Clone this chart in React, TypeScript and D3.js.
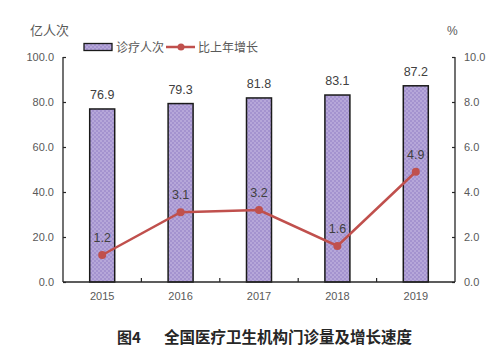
import { useEffect, useRef } from 'react';
import * as d3 from 'd3';

const years = ['2015', '2016', '2017', '2018', '2019'];
const visits = [76.9, 79.3, 81.8, 83.1, 87.2];
const growth = [1.2, 3.1, 3.2, 1.6, 4.9];
const leftTicks = [0, 20, 40, 60, 80, 100];
const rightTicks = [0, 2, 4, 6, 8, 10];

const W = 500;
const H = 363;
const gray = '#595959';
const red = '#c0504d';
const labelFont = '"Liberation Sans", Arial, sans-serif';
const cjkFont = '"Noto Sans CJK SC", sans-serif';

export default function App() {
  const svgRef = useRef<SVGSVGElement>(null);

  useEffect(() => {
    if (!svgRef.current) return;
    const svg = d3.select(svgRef.current);
    svg.selectAll('*').remove();

    const left = 63;
    const right = 455;
    const top = 57;
    const bottom = 282;

    // dotted purple fill like the Excel pattern
    const defs = svg.append('defs');
    const pat = defs
      .append('pattern')
      .attr('id', 'dots')
      .attr('width', 4)
      .attr('height', 4)
      .attr('patternUnits', 'userSpaceOnUse');
    pat.append('rect').attr('width', 4).attr('height', 4).attr('fill', '#a493cf');
    pat.append('circle').attr('cx', 1).attr('cy', 1).attr('r', 0.8).attr('fill', '#cdc2e6');
    pat.append('circle').attr('cx', 3).attr('cy', 3).attr('r', 0.8).attr('fill', '#cdc2e6');

    const x = d3.scaleBand<string>().domain(years).range([left, right]).paddingInner(0).paddingOuter(0);
    const yL = d3.scaleLinear().domain([0, 100]).range([bottom, top]);
    const yR = d3.scaleLinear().domain([0, 10]).range([bottom, top]);
    const barW = 25;

    // bars
    svg
      .append('g')
      .selectAll('rect')
      .data(visits)
      .enter()
      .append('rect')
      .attr('x', (_, i) => x(years[i])! + x.bandwidth() / 2 - barW / 2)
      .attr('y', (d) => yL(d))
      .attr('width', barW)
      .attr('height', (d) => bottom - yL(d))
      .attr('fill', 'url(#dots)')
      .attr('stroke', '#1a1a1a')
      .attr('stroke-width', 1.5);

    // bar labels
    svg
      .append('g')
      .selectAll('text')
      .data(visits)
      .enter()
      .append('text')
      .attr('x', (_, i) => x(years[i])! + x.bandwidth() / 2)
      .attr('y', (d) => yL(d) - 10)
      .attr('text-anchor', 'middle')
      .attr('font-family', labelFont)
      .attr('font-size', 12.5)
      .attr('fill', '#404040')
      .text((d) => d.toFixed(1));

    // left axis
    const gl = svg.append('g').attr('transform', `translate(${left},0)`);
    gl.call(d3.axisLeft(yL).tickValues(leftTicks).tickSize(-3).tickPadding(9).tickFormat((d) => (+d).toFixed(1)));
    gl.select('.domain').attr('d', `M-0,${top}V${bottom}`);

    // right axis
    const gr = svg.append('g').attr('transform', `translate(${right},0)`);
    gr.call(d3.axisRight(yR).tickValues(rightTicks).tickSize(-3).tickPadding(9).tickFormat((d) => (+d).toFixed(1)));
    gr.select('.domain').attr('d', `M0,${top}V${bottom}`);

    // bottom axis
    const gb = svg.append('g').attr('transform', `translate(0,${bottom})`);
    gb.call(d3.axisBottom(x).tickSize(0).tickPadding(10));
    gb.select('.domain').attr('d', `M${left},0H${right}`);
    gb.append('g')
      .selectAll('line')
      .data(years.slice(1))
      .enter()
      .append('line')
      .attr('x1', (d) => x(d)!)
      .attr('x2', (d) => x(d)!)
      .attr('y1', 0)
      .attr('y2', -4)
      .attr('stroke', '#262626')
      .attr('stroke-width', 1.2);

    [gl, gr, gb].forEach((g) => {
      g.selectAll('.domain').attr('stroke', '#262626').attr('stroke-width', 1.3);
      g.selectAll('.tick line').attr('stroke', '#262626').attr('stroke-width', 1.2);
      g.selectAll('text').attr('font-family', labelFont).attr('font-size', 11).attr('fill', gray);
    });

    // growth line
    const line = d3
      .line<number>()
      .x((_, i) => x(years[i])! + x.bandwidth() / 2)
      .y((d) => yR(d));
    svg
      .append('path')
      .datum(growth)
      .attr('d', line)
      .attr('fill', 'none')
      .attr('stroke', red)
      .attr('stroke-width', 2.5);
    svg
      .append('g')
      .selectAll('circle')
      .data(growth)
      .enter()
      .append('circle')
      .attr('cx', (_, i) => x(years[i])! + x.bandwidth() / 2)
      .attr('cy', (d) => yR(d))
      .attr('r', 4)
      .attr('fill', red);
    svg
      .append('g')
      .selectAll('text')
      .data(growth)
      .enter()
      .append('text')
      .attr('x', (_, i) => x(years[i])! + x.bandwidth() / 2)
      .attr('y', (d) => yR(d) - 13)
      .attr('text-anchor', 'middle')
      .attr('font-family', labelFont)
      .attr('font-size', 12.5)
      .attr('fill', '#404040')
      .text((d) => d.toFixed(1));

    // unit labels
    svg
      .append('text')
      .attr('x', 30)
      .attr('y', 35)
      .attr('font-family', cjkFont)
      .attr('font-size', 13)
      .attr('fill', gray)
      .text('亿人次');
    svg
      .append('text')
      .attr('x', 447)
      .attr('y', 35)
      .attr('font-family', labelFont)
      .attr('font-size', 12)
      .attr('fill', gray)
      .text('%');

    // legend
    const lg = svg.append('g');
    lg.append('rect')
      .attr('x', 84)
      .attr('y', 43.5)
      .attr('width', 28)
      .attr('height', 7)
      .attr('fill', 'url(#dots)')
      .attr('stroke', '#1a1a1a')
      .attr('stroke-width', 1.3);
    lg.append('text')
      .attr('x', 116)
      .attr('y', 51.5)
      .attr('font-family', cjkFont)
      .attr('font-size', 12)
      .attr('fill', gray)
      .text('诊疗人次');
    lg.append('line')
      .attr('x1', 166)
      .attr('x2', 195)
      .attr('y1', 47)
      .attr('y2', 47)
      .attr('stroke', red)
      .attr('stroke-width', 2.5);
    lg.append('circle').attr('cx', 181).attr('cy', 47).attr('r', 3.5).attr('fill', red);
    lg.append('text')
      .attr('x', 198)
      .attr('y', 51.5)
      .attr('font-family', cjkFont)
      .attr('font-size', 12)
      .attr('fill', gray)
      .text('比上年增长');

    // caption
    svg
      .append('text')
      .attr('x', 117)
      .attr('y', 343)
      .attr('font-family', cjkFont)
      .attr('font-weight', 700)
      .attr('font-size', 15)
      .attr('fill', '#262626')
      .text('图4');
    svg
      .append('text')
      .attr('x', 164)
      .attr('y', 343)
      .attr('font-family', cjkFont)
      .attr('font-weight', 700)
      .attr('font-size', 15.5)
      .attr('fill', '#262626')
      .text('全国医疗卫生机构门诊量及增长速度');
  }, []);

  return (
    <div style={{ position: 'absolute', left: 0, top: 0 }}>
      <svg ref={svgRef} width={W} height={H} style={{ display: 'block', background: '#fff' }} />
    </div>
  );
}
